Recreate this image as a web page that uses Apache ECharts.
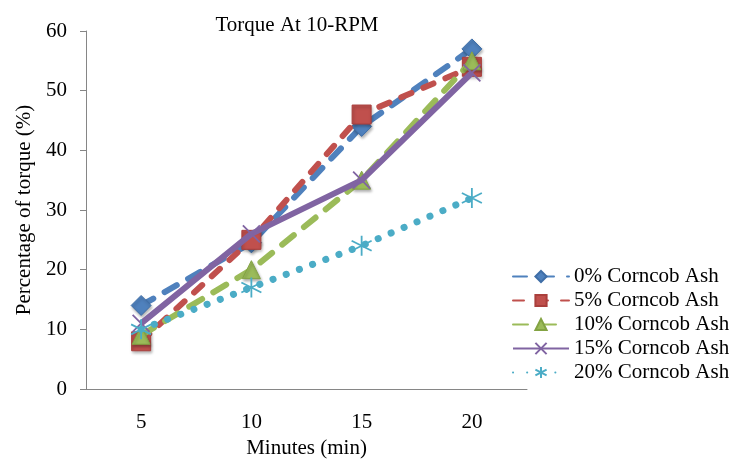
<!DOCTYPE html>
<html>
<head>
<meta charset="utf-8">
<script src="https://cdn.jsdelivr.net/npm/echarts@6/dist/echarts.min.js"></script>
<style>
    html, body { margin: 0; padding: 0; background: #fff; }
    #chart { width: 739px; height: 459px; }
</style>
</head>
<body>
<div id="chart"></div>
<script>
const minutes = ['5', '10', '15', '20']
const seriesNames = ['0% Corncob Ash', '5% Corncob Ash', '10% Corncob Ash', '15% Corncob Ash', '20% Corncob Ash']
const ash0 = [14, 24.5, 44, 57]
const ash5 = [8, 25, 46, 54]
const ash10 = [9, 20, 35, 55]
const ash15 = [11, 26, 35, 53]
const ash20 = [10, 17, 24, 32]

const font = '"Liberation Serif", "Times New Roman", serif'
const xMark = 'path://M0,0 L10,10 M10,0 L0,10'
const starMark = 'path://M5,0 L5,10 M0.7,2.5 L9.3,7.5 M0.7,7.5 L9.3,2.5'

// 每条线的样式
const styles = [
    { data: ash0, color: '#4F81BD', dash: [14, 13], symbol: 'diamond', size: 20 },
    { data: ash5, color: '#C0504D', dash: [11, 13], symbol: 'rect', size: 19 },
    { data: ash10, color: '#9BBB59', dash: [15, 13], symbol: 'triangle', size: 18 },
    { data: ash15, color: '#8064A2', dash: 'solid', symbol: xMark, size: 17, stroke: true },
    { data: ash20, color: '#4BACC6', dash: [0.1, 14], symbol: starMark, size: 20, stroke: true }
]

const chart = echarts.init(document.getElementById('chart'))
chart.setOption({
    animation: false,
    title: {
        text: 'Torque At 10-RPM',
        left: 292,
        top: 10,
        textAlign: 'center',
        textStyle: { fontFamily: font, fontWeight: 'normal', fontSize: 21, color: '#000' }
    },
    grid: { left: 86, right: 212, top: 31, bottom: 70, outerBoundsMode: 'none' },
    legend: {
        orient: 'vertical',
        left: 512,
        top: 266,
        padding: 0,
        itemWidth: 56,
        itemHeight: 14,
        itemGap: 3,
        textStyle: { fontFamily: font, fontSize: 21, color: '#000' },
        data: seriesNames
    },
    xAxis: {
        type: 'category',
        data: minutes,
        name: 'Minutes (min)',
        nameLocation: 'middle',
        nameGap: 48,
        nameTextStyle: { fontFamily: font, fontSize: 21, color: '#000' },
        axisLine: { lineStyle: { color: '#868686' } },
        axisTick: { length: 6, lineStyle: { color: '#868686' } },
        axisLabel: { fontFamily: font, fontSize: 21, color: '#000', margin: 23 }
    },
    yAxis: {
        type: 'value',
        min: 0,
        max: 60,
        interval: 10,
        name: 'Percentage of torque (%)',
        nameLocation: 'middle',
        nameGap: 36,
        nameTextStyle: { fontFamily: font, fontSize: 21, color: '#000' },
        axisLine: { show: true, lineStyle: { color: '#868686' } },
        axisTick: { show: true, length: 6, lineStyle: { color: '#868686' } },
        splitLine: { show: false },
        axisLabel: { fontFamily: font, fontSize: 21, color: '#000', margin: 19 }
    },
    series: styles.map((s, i) => ({
        name: seriesNames[i],
        type: 'line',
        data: s.data,
        symbol: s.symbol,
        symbolSize: s.size,
        showAllSymbol: true,
        z: 2 + i,
        lineStyle: { color: s.color, width: i === 4 ? 7 : 6, type: s.dash, cap: s.dash === 'solid' ? 'butt' : 'round' },
        itemStyle: s.stroke
            ? { color: s.color, borderColor: s.color, borderWidth: 1.8 }
            : {
                color: s.color,
                borderColor: echarts.color.modifyHSL(s.color, null, null, 0.45),
                borderWidth: 1,
                shadowColor: 'rgba(0,0,0,0.3)',
                shadowBlur: 3,
                shadowOffsetX: 1,
                shadowOffsetY: 2
            }
    }))
})
</script>
</body>
</html>
